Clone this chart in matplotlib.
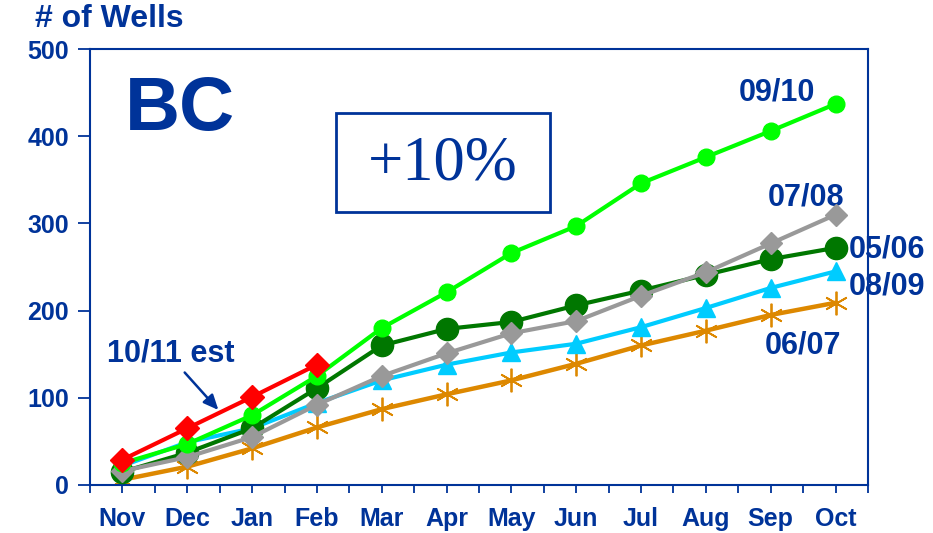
import matplotlib
matplotlib.use('Agg')
import matplotlib.pyplot as plt
from matplotlib.patches import Rectangle

plt.rcParams['font.family'] = ['Liberation Sans', 'DejaVu Sans']

months = ['Nov', 'Dec', 'Jan', 'Feb', 'Mar', 'Apr', 'May', 'Jun', 'Jul', 'Aug', 'Sep', 'Oct']

wells_0910 = [25, 47, 80, 125, 180, 221, 266, 297, 346, 376, 406, 437]
wells_0506 = [15, 37, 65, 111, 160, 179, 187, 206, 223, 241, 259, 272]
wells_0708 = [16, 32, 55, 92, 125, 151, 174, 188, 217, 244, 277, 310]
wells_0809 = [22, 49, 65, 94, 120, 138, 152, 162, 181, 203, 226, 245]
wells_0607 = [6, 21, 42, 66, 87, 104, 120, 139, 160, 177, 195, 209]
wells_1011 = [29, 65, 101, 138]

navy = '#003399'
x = list(range(len(months)))

fig = plt.figure(figsize=(9.33, 5.33), dpi=100)
ax = fig.add_axes([0.0965, 0.0901, 0.8338, 0.8179])

ax.plot(x, wells_0607, color='#DD8800', lw=3.2, marker=(6, 2, 0), ms=17, mew=1.3, zorder=2)
ax.plot(x, wells_0809, color='#00CCFF', lw=3, marker='^', ms=13, zorder=3)
ax.plot(x, wells_0708, color='#999999', lw=3, marker='D', ms=11, zorder=4)
ax.plot(x, wells_0506, color='#007700', lw=3, marker='o', ms=16, zorder=3.5)
ax.plot(x, wells_0910, color='#00FF00', lw=3, marker='o', ms=12, zorder=5)
ax.plot(x[:len(wells_1011)], wells_1011, color='#FF0000', lw=3, marker='D', ms=12, zorder=6)

ax.set_xlim(-0.5, 11.5)
ax.set_ylim(0, 500)
ax.set_xticks(x)
ax.set_xticklabels(months)
ax.set_xticks([i - 0.5 for i in range(13)], minor=True)
ax.set_yticks([0, 100, 200, 300, 400, 500])
ax.tick_params(axis='x', which='both', direction='out', length=6, width=1.3, color=navy,
               labelsize=18, labelcolor=navy, pad=10)
ax.tick_params(axis='y', direction='out', length=9, width=1.3, color=navy,
               labelsize=18, labelcolor=navy, pad=6)
for lbl in ax.get_xticklabels() + ax.get_yticklabels():
    lbl.set_fontweight('bold')
for s in ax.spines.values():
    s.set_color(navy)
    s.set_linewidth(1.5)

fig.text(0.037, 0.965, '# of Wells', color=navy, fontsize=23, fontweight='bold', va='center')
ax.text(0.045, 0.86, 'BC', transform=ax.transAxes, color=navy, fontsize=55,
        fontweight='bold', va='center')
ax.add_patch(Rectangle((0.316, 0.626), 0.275, 0.227, transform=ax.transAxes,
                       fc='white', ec=navy, lw=2, zorder=7))
ax.text(0.454, 0.734, '+10%', transform=ax.transAxes, color=navy, fontsize=45,
        family=['Liberation Serif', 'DejaVu Serif'], ha='center', va='center', zorder=8)

lab = dict(color=navy, fontsize=22, fontweight='bold', ha='center', va='center')
ax.text(10.1, 450, '09/10', **lab)
ax.text(10.55, 330, '07/08', **lab)
ax.text(11.8, 270, '05/06', clip_on=False, **lab)
ax.text(11.8, 228, '08/09', clip_on=False, **lab)
ax.text(10.5, 160, '06/07', **lab)
ax.text(0.75, 151, '10/11 est', **lab)
ax.annotate('', xy=(1.48, 86), xytext=(0.96, 129),
            arrowprops=dict(arrowstyle='-|>,head_length=0.9,head_width=0.4', color=navy,
                            lw=1.8, shrinkA=0, shrinkB=0))

fig.savefig('out.png', dpi=100)
